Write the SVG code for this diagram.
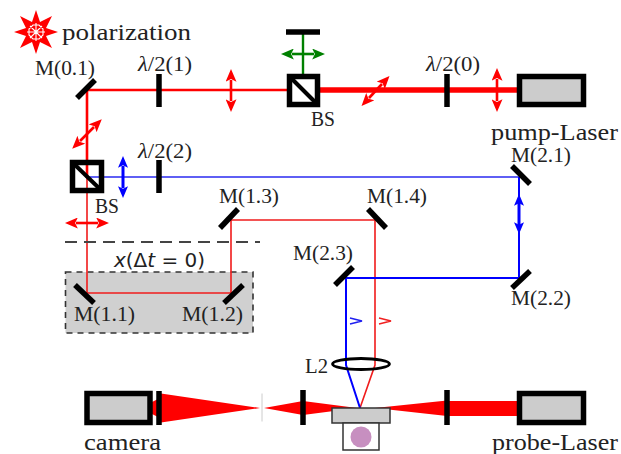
<svg xmlns="http://www.w3.org/2000/svg" width="621" height="454" viewBox="0 0 621 454">
<style>
text{font-family:"Liberation Serif","DejaVu Serif",serif;fill:#222;font-size:20px}
.lg{font-size:24px}
.math{font-family:"DejaVu Sans",sans-serif;font-size:19px}
.it{font-style:italic}
.el{stroke:#000;stroke-width:5.5;fill:none}
.box{stroke:#000;stroke-width:5.5;fill:#ccc}
.r1{stroke:#f01c1c;stroke-width:1.6;fill:none}
.r2{stroke:#f00;stroke-width:2.6;fill:none}
.r3{stroke:#f00;stroke-width:5.5;fill:none}
.b1{stroke:#2a2af0;stroke-width:1.4;fill:none}
.b2{stroke:#00f;stroke-width:2;fill:none}
.ar{stroke:#f00;stroke-width:2.6;fill:none;marker-start:url(#mr);marker-end:url(#mr)}
.ab{stroke:#00f;stroke-width:3;fill:none;marker-start:url(#mb);marker-end:url(#mb)}
.ag{stroke:#008000;stroke-width:2.6;fill:none;marker-start:url(#mg);marker-end:url(#mg)}
</style>
<defs>
<marker id="mr" viewBox="0 0 14 12" refX="2" refY="6" markerWidth="14" markerHeight="11" markerUnits="userSpaceOnUse" orient="auto-start-reverse"><path d="M0 0L14 6L0 12L3 6Z" fill="#f00"/></marker>
<marker id="mb" viewBox="0 0 14 12" refX="2" refY="6" markerWidth="14" markerHeight="10" markerUnits="userSpaceOnUse" orient="auto-start-reverse"><path d="M0 0L14 6L0 12L3 6Z" fill="#00f"/></marker>
<marker id="mg" viewBox="0 0 14 12" refX="2" refY="6" markerWidth="14" markerHeight="11" markerUnits="userSpaceOnUse" orient="auto-start-reverse"><path d="M0 0L14 6L0 12L3 6Z" fill="#008000"/></marker>
</defs>

<g id="delay-stage">
<rect x="65.500" y="272" width="187.500" height="61" fill="#d0d0d0" stroke="#333" stroke-width="1.600" stroke-dasharray="6 5"/>
</g>

<g id="connectors">
<path class="r3" d="M320 90H517"/>
<path class="r2" d="M87 178V90H290"/>
<path class="b1" d="M87 177H519"/>
<path class="r1" d="M87 177V293H231V220H375V365L360 408"/>
<path class="b2" d="M519 177V278H346V365L360 408"/>
<path d="M303 32V76" stroke="#008000" stroke-width="2.400" fill="none"/>
<path d="M152 402L160 398V418L152 414Z" fill="#f00"/>
<path d="M161 393.500L260 408L161 422.500Z" fill="#f00"/>
<path d="M264 408L303 401V415Z" fill="#f00"/>
<path d="M303 401L357 408L303 415Z" fill="#f00"/>
<path d="M375 408L447 400.500V416Z" fill="#f00"/>
<rect x="447" y="401" width="70" height="15" fill="#f00"/>
<path d="M262 393.500V421.500" stroke="#ccc" stroke-width="1"/>
<path d="M65 242H260" stroke="#444" stroke-width="1.800" stroke-dasharray="12 7" fill="none"/>
<path class="ar" d="M231 80V101"/>
<path class="ar" d="M497 79V101"/>
<path class="ar" d="M369 98L382 84"/>
<path class="ar" d="M80 141L94 127"/>
<path class="ar" d="M76 223H98"/>
<path class="ab" d="M123 166V188"/>
<path class="ab" d="M519 204V224"/>
<path class="ag" d="M292 54H314"/>
<path d="M350 318L362 321L350 324" stroke="#2020f0" stroke-width="1.500" fill="none"/>
<path d="M379 318L391 321L379 324" stroke="#f02020" stroke-width="1.500" fill="none"/>
</g>

<g id="polarization-star">
<path fill="#f00" d="M36 10L40 22L52 16L46 28L58 32L46 36L52 48L40 42L36 54L32 42L20 48L26 36L14 32L26 28L20 16L32 22Z"/>
<path stroke="#fff" stroke-width="1.100" fill="none" d="M36 23V41M27 32H45M30 26L42 38M42 26L30 38M33 25H39L43 29V35L39 39H33L29 35V29Z"/>
<text x="62" y="40" class="lg" textLength="129" lengthAdjust="spacingAndGlyphs">polarization</text>
</g>

<g id="m01"><path class="el" d="M77 98L95 80"/><text x="35" y="75" textLength="60" lengthAdjust="spacingAndGlyphs">M(0.1)</text></g>
<g id="wp1"><path class="el" d="M159 74V107"/><text x="138" y="71" textLength="54" lengthAdjust="spacingAndGlyphs"><tspan class="it">λ</tspan>/2(1)</text></g>
<g id="bs1"><rect x="289.500" y="76.500" width="28" height="28" fill="none" stroke="#000" stroke-width="5.500"/><path class="el" d="M289 76L318 105" style="stroke-width:4"/><text x="311" y="126" textLength="24" lengthAdjust="spacingAndGlyphs">BS</text></g>
<g id="beam-dump"><path class="el" d="M286 32H320"/></g>
<g id="wp0"><path class="el" d="M447 74V107"/><text x="426" y="71" textLength="54" lengthAdjust="spacingAndGlyphs"><tspan class="it">λ</tspan>/2(0)</text></g>
<g id="pump-laser"><rect class="box" x="519.500" y="76.500" width="64" height="28"/><text x="491" y="140" class="lg" textLength="127" lengthAdjust="spacingAndGlyphs">pump-Laser</text></g>
<g id="bs2"><rect x="72.500" y="162.500" width="29" height="28" fill="none" stroke="#000" stroke-width="5.500"/><path class="el" d="M73 163L102 191" style="stroke-width:4"/><text x="95" y="213" textLength="24" lengthAdjust="spacingAndGlyphs">BS</text></g>
<g id="wp2"><path class="el" d="M159 160V193"/><text x="138" y="158" textLength="54" lengthAdjust="spacingAndGlyphs"><tspan class="it">λ</tspan>/2(2)</text></g>
<g id="m21"><path class="el" d="M512 166L530 184"/><text x="511" y="162" textLength="60" lengthAdjust="spacingAndGlyphs">M(2.1)</text></g>
<g id="m13"><path class="el" d="M220 228L238 209"/><text x="219" y="203" textLength="60" lengthAdjust="spacingAndGlyphs">M(1.3)</text></g>
<g id="m14"><path class="el" d="M368 209L386 228"/><text x="367" y="203" textLength="60" lengthAdjust="spacingAndGlyphs">M(1.4)</text></g>
<g id="m23"><path class="el" d="M335 285L353 267"/><text x="293" y="260" textLength="60" lengthAdjust="spacingAndGlyphs">M(2.3)</text></g>
<g id="m22"><path class="el" d="M512 288L530 271"/><text x="511" y="305" textLength="60" lengthAdjust="spacingAndGlyphs">M(2.2)</text></g>
<g id="m11"><path class="el" d="M75 285L94 303"/><text x="74" y="321" textLength="61" lengthAdjust="spacingAndGlyphs">M(1.1)</text></g>
<g id="m12"><path class="el" d="M224 303L243 285"/><text x="182" y="321" textLength="61" lengthAdjust="spacingAndGlyphs">M(1.2)</text></g>
<text class="math" x="114" y="267" textLength="91" lengthAdjust="spacingAndGlyphs"><tspan class="it">x</tspan>(Δ<tspan class="it">t</tspan> = 0)</text>
<g id="l2"><ellipse cx="361" cy="364" rx="28.500" ry="5.500" fill="none" stroke="#000" stroke-width="2.800"/><text x="305" y="373" textLength="23" lengthAdjust="spacingAndGlyphs">L2</text></g>
<g id="camera"><rect class="box" x="87" y="393.500" width="63" height="29"/><text x="84" y="450" class="lg" textLength="77" lengthAdjust="spacingAndGlyphs">camera</text></g>
<g id="plate-cam"><path class="el" d="M159 391V425"/></g>
<g id="plate-mid"><path class="el" d="M303 390V425"/></g>
<g id="plate-probe"><path class="el" d="M447 390V425"/></g>
<g id="sample"><rect x="332" y="408" width="58" height="15" fill="#ccc" stroke="#333" stroke-width="1.500"/><rect x="343" y="423" width="36" height="27" fill="#fff" stroke="#333" stroke-width="1.500"/><circle cx="361" cy="437" r="10.500" fill="#c78fc0"/></g>
<g id="probe-laser"><rect class="box" x="519.500" y="393.500" width="64" height="29"/><text x="492" y="450" class="lg" textLength="126" lengthAdjust="spacingAndGlyphs">probe-Laser</text></g>
</svg>
